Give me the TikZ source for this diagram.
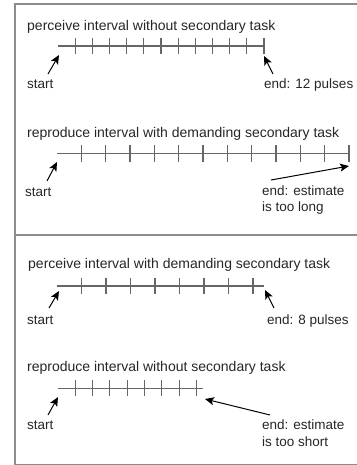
\documentclass[tikz,border=0pt]{standalone}
\usepackage{fontspec}
\setmainfont{Liberation Sans}
\usetikzlibrary{arrows.meta}
\begin{document}
\begin{tikzpicture}[x=1pt,y=-1pt,
  ttl/.style={anchor=base west, inner sep=0pt, font=\fontsize{14}{17}\selectfont, text=black!85},
  lbl/.style={anchor=base west, inner sep=0pt, align=left, font=\fontsize{13.5}{16.7}\selectfont, text=black!85},
  ival/.style={draw=black!60, line width=1.1pt},
  ptr/.style={-{Stealth[length=9pt,width=8pt,inset=2pt]}, line width=1pt, draw=black},
  framebox/.style={draw=black!45, line width=1.3pt}]
\useasboundingbox (0,0) rectangle (356,465);
% frame
\draw[framebox] (15,4) rectangle (362,464.5);
\draw[framebox] (15,235) -- (362,235);

% ---------- panel 1 ----------
\node[ttl] (t1) at (27,31) {perceive interval without secondary task};
\coordinate (a1) at (58,46);
\coordinate (b1) at (264,46);
\draw[ival] (a1) -- (b1);
\foreach \k in {1,...,12} \draw[ival] (58+17.17*\k,38) -- ++(0,16);
\node[lbl] (s1) at (27,89) {start};
\node[lbl] (e1) at (264,89) {end: 12 pulses};
\coordinate (s1tail) at (48,74);  \coordinate (s1tip) at (59,55);
\coordinate (e1tail) at (273,74); \coordinate (e1tip) at (264,56);
\draw[ptr] (s1tail) -- (s1tip);
\draw[ptr] (e1tail) -- (e1tip);

\node[ttl] (t2) at (27,137.5) {reproduce interval with demanding secondary task};
\coordinate (a2) at (57,153.5);
\coordinate (b2) at (349,153.5);
\draw[ival] (a2) -- (b2);
\foreach \k in {1,...,12} \draw[ival] (57+24.33*\k,145.5) -- ++(0,16);
\node[lbl] (s2) at (25,196.5) {start};
\node[lbl] (e2) at (262,211.7) {end: estimate\\is too long};
\coordinate (s2tail) at (47,181);  \coordinate (s2tip) at (57,162);
\coordinate (e2tail) at (271,180); \coordinate (e2tip) at (349,166);
\draw[ptr] (s2tail) -- (s2tip);
\draw[ptr] (e2tail) -- (e2tip);

% ---------- panel 2 ----------
\node[ttl] (t3) at (28,268.3) {perceive interval with demanding secondary task};
\coordinate (a3) at (57,286);
\coordinate (b3) at (264,286);
\draw[ival] (a3) -- (b3);
\foreach \k in {1,...,8} \draw[ival] (57+24.5*\k,278) -- ++(0,16);
\node[lbl] (s3) at (27,324.7) {start};
\node[lbl] (e3) at (267,324.7) {end: 8 pulses};
\coordinate (s3tail) at (49,308);  \coordinate (s3tip) at (59,291);
\coordinate (e3tail) at (274,308); \coordinate (e3tip) at (265,290);
\draw[ptr] (s3tail) -- (s3tip);
\draw[ptr] (e3tail) -- (e3tip);

\node[ttl] (t4) at (27,371.7) {reproduce interval without secondary task};
\coordinate (a4) at (58,388.3);
\coordinate (b4) at (203,388.3);
\draw[ival] (a4) -- (b4);
\foreach \k in {1,...,8} \draw[ival] (58+17.3*\k,380.3) -- ++(0,16);
\node[lbl] (s4) at (27,429.3) {start};
\node[lbl] (e4) at (262,446) {end: estimate\\is too short};
\coordinate (s4tail) at (48,415);  \coordinate (s4tip) at (58,397);
\coordinate (e4tail) at (270,415); \coordinate (e4tip) at (205,399);
\draw[ptr] (s4tail) -- (s4tip);
\draw[ptr] (e4tail) -- (e4tip);
\end{tikzpicture}
\end{document}
